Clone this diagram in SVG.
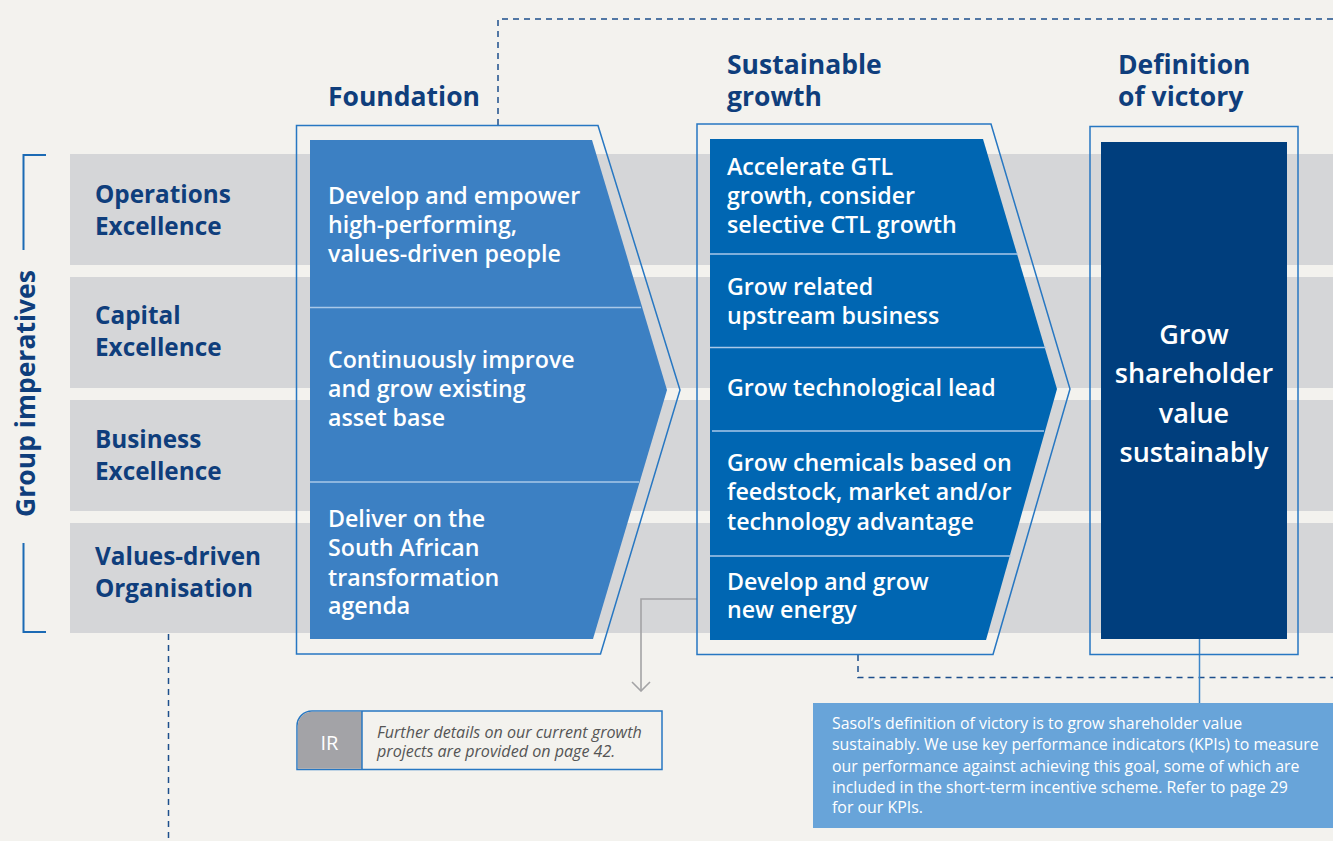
<svg xmlns="http://www.w3.org/2000/svg" width="1333" height="841" viewBox="0 0 1333 841">
  <defs>
    <style>
      .bg { fill: #f3f2ee; }
      .band { fill: #d5d6d8; }
      .hdr { font-family: "Open Sans", "Liberation Sans", sans-serif; font-weight: 700; font-size: 26.5px; fill: #0f3e7c; }
      .row { font-family: "Open Sans", "Liberation Sans", sans-serif; font-weight: 700; font-size: 24.3px; fill: #0f3e7c; }
      .cell { font-family: "Open Sans", "Liberation Sans", sans-serif; font-weight: 600; font-size: 23.2px; fill: #ffffff; }
      .victory { font-family: "Open Sans", "Liberation Sans", sans-serif; font-weight: 600; font-size: 27px; fill: #ffffff; text-anchor: middle; }
      .frame { fill: none; stroke: #2777c2; stroke-width: 1.5; }
      .divider { stroke: #a9c8e8; stroke-width: 1.5; }
      .dash { fill: none; stroke: #1c4f8c; stroke-width: 1.5; stroke-dasharray: 6 5; }
      .bracket { fill: none; stroke: #1b6ab4; stroke-width: 2; }
      .note { font-family: "Open Sans", "Liberation Sans", sans-serif; font-style: italic; font-size: 16.1px; fill: #555555; }
      .callout { font-family: "Open Sans", "Liberation Sans", sans-serif; font-size: 15.9px; fill: #ffffff; }
    </style>
    <!-- open chevron arrowhead, drawn pointing along +x -->
    <marker id="chev" viewBox="0 0 12 20" refX="11" refY="10" markerWidth="12" markerHeight="20" markerUnits="userSpaceOnUse" orient="auto">
      <path d="M2,1 L11,10 L2,19" fill="none" stroke="#a3a3a5" stroke-width="1.6"/>
    </marker>
  </defs>

  <rect class="bg" x="0" y="0" width="1333" height="841"/>

  <!-- horizontal imperative bands -->
  <g id="bands">
    <rect class="band" x="70" y="154" width="1263" height="111"/>
    <rect class="band" x="70" y="277" width="1263" height="111"/>
    <rect class="band" x="70" y="400" width="1263" height="111"/>
    <rect class="band" x="70" y="523" width="1263" height="110"/>
  </g>

  <!-- dashed guide lines and connectors -->
  <g id="connectors">
    <path class="dash" d="M498,125 V19 H1333"/>
    <path class="dash" d="M858,655 V677.5 H1333"/>
    <path class="dash" d="M168.5,634 V841"/>
    <path d="M697,599 H641 V691" fill="none" stroke="#a3a3a5" stroke-width="1.6" marker-end="url(#chev)"/>
    <path d="M1199.5,639 V703" fill="none" stroke="#3c87c9" stroke-width="1.5"/>
  </g>

  <!-- side bracket -->
  <g id="group-imperatives">
    <path class="bracket" d="M46,155 H23.5 V250"/>
    <path class="bracket" d="M23.5,543 V632 H46"/>
    <text class="hdr" transform="translate(35,393.5) rotate(-90)" text-anchor="middle" font-size="27">Group imperatives</text>
  </g>

  <!-- row labels -->
  <g id="row-labels">
    <text class="row" x="95" y="203">Operations</text>
    <text class="row" x="95" y="235">Excellence</text>
    <text class="row" x="95" y="324">Capital</text>
    <text class="row" x="95" y="356">Excellence</text>
    <text class="row" x="95" y="448">Business</text>
    <text class="row" x="95" y="480">Excellence</text>
    <text class="row" x="95" y="565">Values-driven</text>
    <text class="row" x="95" y="597">Organisation</text>
  </g>

  <!-- column headers -->
  <g id="headers">
    <text class="hdr" x="328" y="106">Foundation</text>
    <text class="hdr" x="727" y="74">Sustainable</text>
    <text class="hdr" x="727" y="106">growth</text>
    <text class="hdr" x="1118" y="74">Definition</text>
    <text class="hdr" x="1118" y="106">of victory</text>
  </g>

  <!-- Foundation chevron -->
  <g id="foundation">
    <polygon class="frame" points="296.5,125.5 598,125.5 680,390 600.5,654 296.5,654"/>
    <polygon points="310,140 592,140 667,390 593,639 310,639" fill="#3c80c3"/>
    <line class="divider" x1="310" y1="307.5" x2="641" y2="307.5"/>
    <line class="divider" x1="310" y1="482" x2="639" y2="482"/>
    <text class="cell" x="328" y="204">Develop and empower</text>
    <text class="cell" x="328" y="233">high-performing,</text>
    <text class="cell" x="328" y="262">values-driven people</text>
    <text class="cell" x="328" y="368">Continuously improve</text>
    <text class="cell" x="328" y="397">and grow existing</text>
    <text class="cell" x="328" y="426">asset base</text>
    <text class="cell" x="328" y="527">Deliver on the</text>
    <text class="cell" x="328" y="556">South African</text>
    <text class="cell" x="328" y="586">transformation</text>
    <text class="cell" x="328" y="614">agenda</text>
  </g>

  <!-- Sustainable growth chevron -->
  <g id="sustainable-growth">
    <polygon class="frame" points="697,124 991,124 1070,389 993,654.5 697,654.5"/>
    <polygon points="710,139 983,139 1057,389 986,640 710,640" fill="#0066b2"/>
    <line class="divider" x1="710" y1="254" x2="1018" y2="254"/>
    <line class="divider" x1="710" y1="347.5" x2="1046" y2="347.5"/>
    <line class="divider" x1="712" y1="431" x2="1044" y2="431"/>
    <line class="divider" x1="710" y1="556" x2="1011" y2="556"/>
    <text class="cell" x="727" y="175">Accelerate GTL</text>
    <text class="cell" x="727" y="204">growth, consider</text>
    <text class="cell" x="727" y="233">selective CTL growth</text>
    <text class="cell" x="727" y="295">Grow related</text>
    <text class="cell" x="727" y="324">upstream business</text>
    <text class="cell" x="727" y="396">Grow technological lead</text>
    <text class="cell" x="727" y="471">Grow chemicals based on</text>
    <text class="cell" x="727" y="500">feedstock, market and/or</text>
    <text class="cell" x="727" y="530">technology advantage</text>
    <text class="cell" x="727" y="590">Develop and grow</text>
    <text class="cell" x="727" y="618">new energy</text>
  </g>

  <!-- Definition of victory -->
  <g id="definition-of-victory">
    <rect class="frame" x="1090" y="126.5" width="208" height="528" stroke="#3c87c9" stroke-width="2"/>
    <rect x="1101" y="142" width="186" height="497" fill="#003e7d"/>
    <text class="victory" x="1194" y="344">Grow</text>
    <text class="victory" x="1194" y="383">shareholder</text>
    <text class="victory" x="1194" y="422.5">value</text>
    <text class="victory" x="1194" y="462">sustainably</text>
  </g>

  <!-- IR reference note -->
  <g id="ir-note">
    <path d="M362,711 H662 V769.5 H297 V726 A15,15 0 0 1 312,711 Z" fill="#f3f2ee" stroke="#2777c2" stroke-width="1.5"/>
    <path d="M362,711.8 V768.8 H297.8 V726 A14.2,14.2 0 0 1 312,711.8 Z" fill="#a3a3a7"/>
    <line x1="362" y1="711" x2="362" y2="769.5" stroke="#2777c2" stroke-width="1.5"/>
    <text x="329.5" y="750" text-anchor="middle" font-family="Open Sans, Liberation Sans, sans-serif" font-size="20" fill="#ffffff">IR</text>
    <text class="note" x="377" y="738">Further details on our current growth</text>
    <text class="note" x="377" y="757">projects are provided on page 42.</text>
  </g>

  <!-- KPI callout -->
  <g id="kpi-callout">
    <rect x="813" y="703" width="520" height="125" fill="#68a4d9"/>
    <text class="callout" x="832" y="729">Sasol’s definition of victory is to grow shareholder value</text>
    <text class="callout" x="832" y="750">sustainably. We use key performance indicators (KPIs) to measure</text>
    <text class="callout" x="832" y="771.5">our performance against achieving this goal, some of which are</text>
    <text class="callout" x="832" y="792.5">included in the short-term incentive scheme. Refer to page 29</text>
    <text class="callout" x="832" y="813">for our KPIs.</text>
  </g>
</svg>
